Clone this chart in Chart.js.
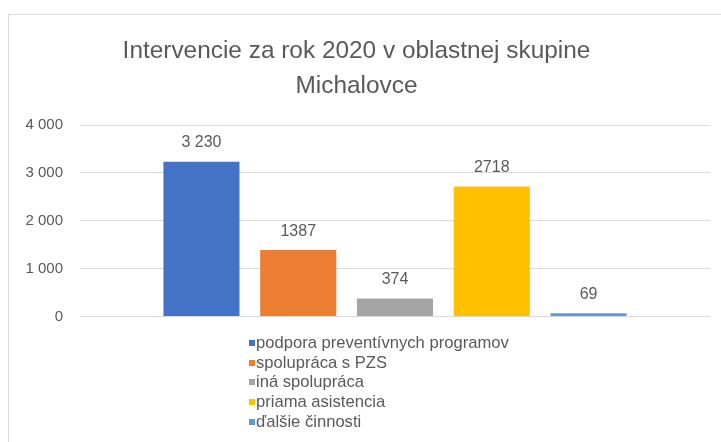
<!DOCTYPE html>
<html>
<head>
<meta charset="utf-8">
<script src="https://cdn.jsdelivr.net/npm/chart.js@4.4.1/dist/chart.umd.min.js"></script>
<style>
  html, body { margin: 0; padding: 0; background: #fff; overflow: hidden; }
  #wrap { position: relative; width: 721px; height: 442px; font-family: "Liberation Sans", Arial, sans-serif; }
  #frame { position: absolute; left: 8px; top: 14px; width: 760px; height: 460px; border: 1px solid #d9d9d9; box-sizing: border-box; }
  #title { position: absolute; left: 8px; width: 697px; top: 32px; text-align: center; color: #595959; font-size: 24.4px; line-height: 35px; }
  #legend { position: absolute; left: 249px; top: 333px; color: #595959; font-size: 16.6px; line-height: 19.7px; }
  #legend div { position: relative; padding-left: 7px; white-space: nowrap; }
  #legend span { position: absolute; left: 0; top: 7px; width: 6px; height: 6px; }
  canvas { position: absolute; left: 0; top: 0; }
</style>
</head>
<body>
<div id="wrap">
  <div id="frame"></div>
  <canvas id="chart" width="721" height="442"></canvas>
  <div id="title">Intervencie za rok 2020 v oblastnej skupine<br>Michalovce</div>
  <div id="legend"></div>
</div>
<script>
const categories = ['2020'];
const seriesNames = ['podpora preventívnych programov', 'spolupráca s PZS', 'iná spolupráca', 'priama asistencia', 'ďalšie činnosti'];
const seriesValues = [3230, 1387, 374, 2718, 69];
const valueLabels = ['3 230', '1387', '374', '2718', '69'];
const seriesColors = ['#4472C4', '#ED7D31', '#A5A5A5', '#FFC000', '#5B9BD5'];
const yTicks = [0, 1000, 2000, 3000, 4000];

// labels above the bars (no datalabels plugin available offline)
const barLabels = {
    id: 'barLabels',
    afterDatasetsDraw(chart) {
        const ctx = chart.ctx;
        ctx.save();
        ctx.font = '16px "Liberation Sans", Arial, sans-serif';
        ctx.fillStyle = '#595959';
        ctx.textAlign = 'center';
        ctx.textBaseline = 'middle';
        chart.data.datasets.forEach((ds, i) => {
            const bar = chart.getDatasetMeta(i).data[0];
            ctx.fillText(valueLabels[i], bar.x, bar.y - 19);
        });
        ctx.restore();
    }
};

const datasets = seriesNames.map((name, i) => ({
    label: name,
    data: [seriesValues[i]],
    backgroundColor: seriesColors[i],
    borderWidth: 0,
    categoryPercentage: 0.768,
    barPercentage: 0.786
}));

const chart = new Chart(document.getElementById('chart'), {
    type: 'bar',
    data: { labels: categories, datasets: datasets },
    options: {
        responsive: false,
        animation: false,
        layout: { padding: { top: 125, bottom: 117.5, right: 11, left: 0 } },
        plugins: {
            legend: { display: false },
            title: { display: false },
            tooltip: { enabled: false }
        },
        scales: {
            x: {
                ticks: { display: false },
                grid: { display: false },
                border: { display: false }
            },
            y: {
                min: 0,
                max: 4000,
                afterFit: (scale) => { scale.width = 80; },
                afterBuildTicks: (scale) => { scale.ticks = yTicks.map(v => ({ value: v })); },
                ticks: {
                    padding: 17,
                    color: '#595959',
                    font: { size: 15, family: '"Liberation Sans", Arial, sans-serif' },
                    callback: (v) => String(v).replace(/\B(?=(\d{3})+(?!\d))/g, ' ')
                },
                grid: { color: '#d9d9d9', drawTicks: false },
                border: { display: false }
            }
        }
    },
    plugins: [barLabels]
});

// legend as plain html list
const legend = document.getElementById('legend');
chart.data.datasets.forEach((ds) => {
    const row = document.createElement('div');
    const box = document.createElement('span');
    box.style.background = ds.backgroundColor;
    row.appendChild(box);
    row.appendChild(document.createTextNode(ds.label));
    legend.appendChild(row);
});
</script>
</body>
</html>
